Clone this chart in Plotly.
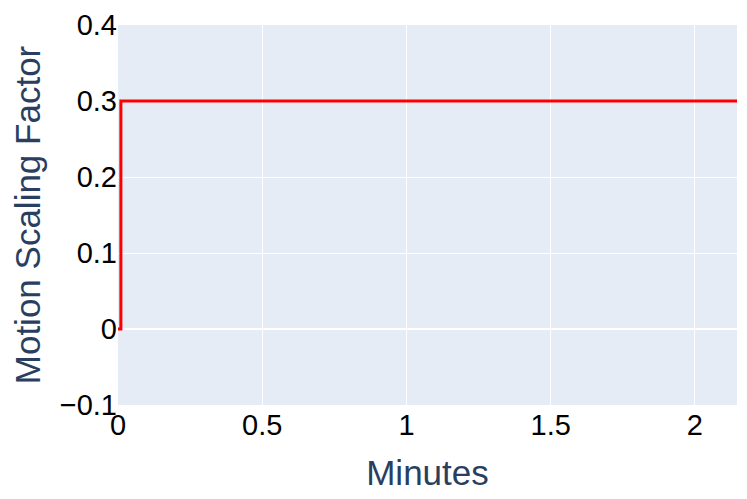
import plotly.graph_objects as go

minutes = [0, 0.01, 0.5, 1.0, 1.5, 2.0, 2.2]
scaling_factor = [0, 0.3, 0.3, 0.3, 0.3, 0.3, 0.3]

fig = go.Figure()
fig.add_trace(go.Scatter(
    x=minutes,
    y=scaling_factor,
    mode="lines",
    line=dict(color="red", width=3, shape="hv"),
    showlegend=False,
))

fig.update_layout(
    template="plotly",
    width=747,
    height=499,
    margin=dict(l=110, r=18, t=17, b=102, autoexpand=False),
    font=dict(family="Liberation Sans, Arial, sans-serif", size=29),
)
fig.update_xaxes(
    title=dict(text="Minutes", font=dict(size=35), standoff=20),
    range=[0, 2.146],
    tickfont=dict(color="black", size=29),
    zeroline=False,
    automargin=True,
)
fig.update_yaxes(
    title=dict(text="Motion Scaling Factor", font=dict(size=35), standoff=27),
    range=[-0.1, 0.4],
    tickfont=dict(color="black", size=29),
    dtick=0.1,
    automargin=True,
)
fig.write_html("out.html")
